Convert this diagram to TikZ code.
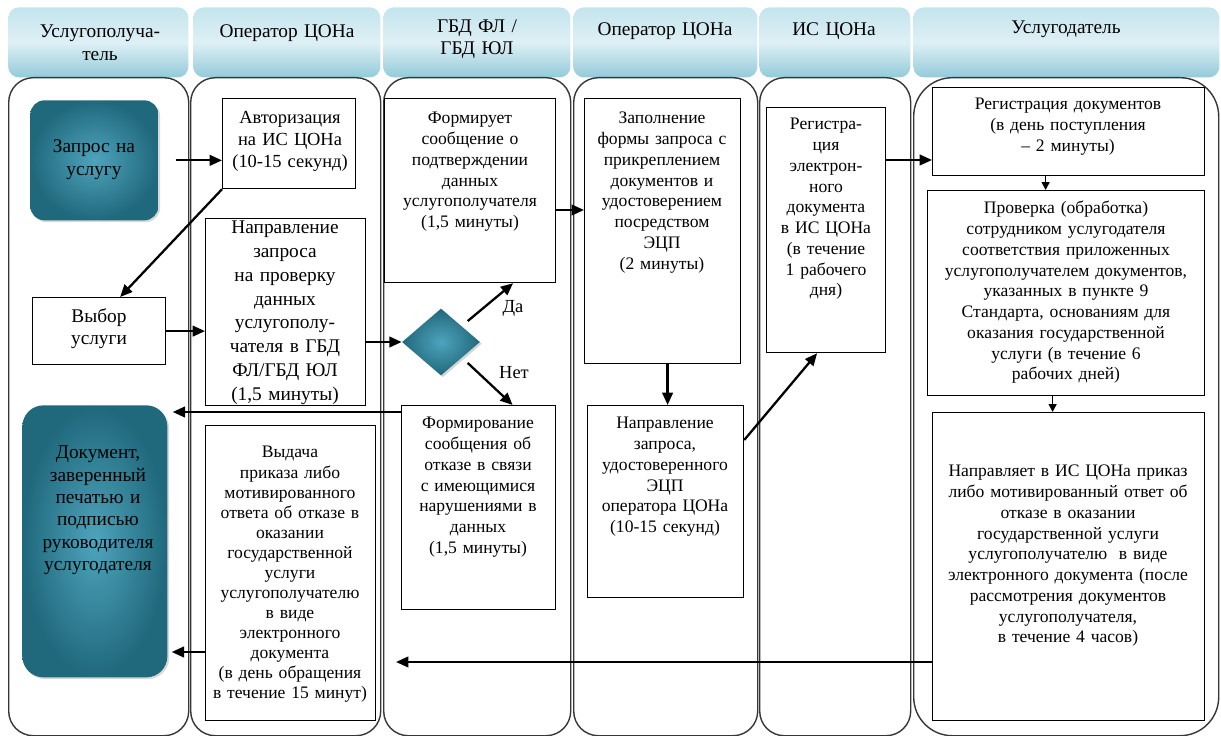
\documentclass[tikz,border=0pt]{standalone}
\usepackage{fontspec}
\setmainfont{Liberation Serif}
\usetikzlibrary{arrows.meta,calc,positioning,shapes.geometric,shadows}
\definecolor{tealdark}{RGB}{32,104,124}
\definecolor{teallight}{RGB}{78,164,188}
\definecolor{tabtop}{RGB}{196,228,237}
\definecolor{tabmid}{RGB}{222,240,245}
\definecolor{tabbot}{RGB}{148,202,218}
\definecolor{laneline}{RGB}{55,55,55}
\newcommand\fsz[2]{\fontsize{#1}{#2}\selectfont}

\begin{document}
\begin{tikzpicture}[x=0.02cm, y=-0.02cm,
    every node/.style={font=\fsz{10}{11.8}},
    tab/.style={draw=none, rounded corners=6pt, top color=tabtop, bottom color=tabbot, middle color=tabmid,
        anchor=north west, minimum height=70*0.02cm, inner sep=0, minimum width=#1*0.02cm},
    lane/.style={draw=laneline, line width=0.8pt, rounded corners=14pt, anchor=north west,
        minimum height=658*0.02cm, inner sep=0, minimum width=#1*0.02cm},
    box/.style 2 args={draw, line width=0.7pt, anchor=north west, inner sep=0,
        minimum width=#1*0.02cm, minimum height=#2*0.02cm},
    tealbox/.style 2 args={shading=radial, inner color=teallight, outer color=tealdark,
        anchor=north west, inner sep=0, rounded corners=10pt,
        drop shadow={shadow xshift=1pt, shadow yshift=-1pt, opacity=0.3},
        minimum width=#1*0.02cm, minimum height=#2*0.02cm},
    decision/.style={diamond, inner sep=0, minimum width=78*0.02cm, minimum height=67*0.02cm,
        shading=radial, inner color=teallight, outer color=tealdark,
        drop shadow={shadow xshift=1pt, shadow yshift=-1pt, opacity=0.35}},
    txt/.style={align=center, inner sep=0, anchor=base, text width=#1*0.02cm},
    lbl/.style={inner sep=0, anchor=base, font=\fsz{10.5}{12}},
    arr/.style={line width=1.3pt, -{Triangle[length=7pt,width=6pt]}},
    thinarr/.style={line width=0.8pt, -{Triangle[length=4.5pt,width=4.5pt]}}
]
\useasboundingbox (0,0) rectangle (1221,736);

% headers
\node[tab=180] (tab1) at (8,7) {};
\node[tab=187] (tab2) at (193,7) {};
\node[tab=187] (tab3) at (383,7) {};
\node[tab=184] (tab4) at (573,7) {};
\node[tab=151] (tab5) at (759,7) {};
\node[tab=306] (tab6) at (913,7) {};
\node[txt=170, font=\fsz{11}{13}] (tt1) at (100,38) {Услугополуча-\\тель};
\node[txt=180, font=\fsz{11}{13}] (tt2) at (287,38) {Оператор ЦОНа};
\node[txt=180, font=\fsz{11}{12}] (tt3) at (477,33) {ГБД ФЛ /\\ГБД ЮЛ};
\node[txt=180, font=\fsz{11}{13}] (tt4) at (665,36) {Оператор ЦОНа};
\node[txt=150, font=\fsz{11}{13}] (tt5) at (834,36) {ИС ЦОНа};
\node[txt=300, font=\fsz{11}{13}] (tt6) at (1066,34) {Услугодатель};

% lanes
\node[lane=180] (lane1) at (8,77) {};
\node[lane=190] (lane2) at (190,77) {};
\node[lane=187] (lane3) at (383,77) {};
\node[lane=184] (lane4) at (573,77) {};
\node[lane=151] (lane5) at (759,77) {};
\node[lane=305, rounded corners=22pt] (lane6) at (913,77) {};

% Услугополучатель
\node[tealbox={128}{120}, rounded corners=8pt] (zapros) at (30,100) {};
\node[txt=120, font=\fsz{11}{13}] (zapros-t) at (94,153) {Запрос на\\услугу};
\node[box={133}{67}] (vybor) at (32,297) {};
\node[txt=125, font=\fsz{11}{12}] (vybor-t) at (99,323) {Выбор\\услуги};
\node[tealbox={145}{272}, rounded corners=12pt] (dok) at (22,405) {};
\node[txt=140, font=\fsz{11}{12.7}] (dok-t) at (98,459)
    {Документ,\\заверенный\\печатью и\\подписью\\руководителя\\услугодателя};

% Оператор ЦОНа
\node[box={133}{90}] (avt) at (222,98) {};
\node[txt=130, font=\fsz{10.5}{12.5}] (avt-t) at (290,124) {Авторизация\\на ИС ЦОНа\\(10-15 секунд)};
\node[box={160}{187}] (napr) at (205,218) {};
\node[txt=158, font=\fsz{11}{13.5}] (napr-t) at (285,234)
    {Направление\\запроса\\на проверку\\данных\\услугополу-\\чателя в ГБД\\ФЛ/ГБД ЮЛ\\(1,5 минуты)};
\node[box={170}{295}] (vyd) at (205,425) {};
\node[txt=168, font=\fsz{10}{11.4}] (vyd-t) at (290,458)
    {Выдача\\приказа либо\\мотивированного\\ответа об отказе в\\оказании\\государственной\\услуги\\услугополучателю\\в виде\\электронного\\документа\\(в день обращения\\в течение 15 минут)};

% ГБД ФЛ / ГБД ЮЛ
\node[box={171}{184}] (frm) at (384,98) {};
\node[txt=168] (frm-t) at (470,124)
    {Формирует\\сообщение о\\подтверждении\\данных\\услугополучателя\\(1,5 минуты)};
\node[decision] (dia) at (441,342) {};
\node[lbl] (da) at (513,313) {Да};
\node[lbl] (net) at (514,379) {Нет};
\node[box={154}{204}] (frmo) at (401,405) {};
\node[txt=152] (frmo-t) at (478,429)
    {Формирование\\сообщения об\\отказе в связи\\с имеющимися\\нарушениями в\\данных\\(1,5 минуты)};

% Оператор ЦОНа
\node[box={156}{265}] (zap) at (584,98) {};
\node[txt=154] (zap-t) at (662,124)
    {Заполнение\\формы запроса с\\прикреплением\\документов и\\удостоверением\\посредством\\ЭЦП\\(2 минуты)};
\node[box={156}{192}] (nud) at (587,405) {};
\node[txt=154] (nud-t) at (665,429)
    {Направление\\запроса,\\удостоверенного\\ЭЦП\\оператора ЦОНа\\(10-15 секунд)};

% ИС ЦОНа
\node[box={119}{245}] (rege) at (766,107) {};
\node[txt=117] (rege-t) at (826,130)
    {Регистра-\\ция\\электрон-\\ного\\документа\\в ИС ЦОНа\\(в течение\\1 рабочего\\дня)};

% Услугодатель
\node[box={272}{88}] (regd) at (932,87) {};
\node[txt=268] (regd-t) at (1068,110) {Регистрация документов\\(в день поступления\\– 2 минуты)};
\node[box={277}{205}] (prov) at (927,190) {};
\node[txt=272] (prov-t) at (1066,214)
    {Проверка (обработка)\\сотрудником услугодателя\\соответствия приложенных\\услугополучателем документов,\\указанных в пункте 9\\Стандарта, основаниям для\\оказания государственной\\услуги (в течение 6\\рабочих дней)};
\node[box={272}{308}] (nprl) at (932,412) {};
\node[txt=268] (nprl-t) at (1068,477)
    {Направляет в ИС ЦОНа приказ\\либо мотивированный ответ об\\отказе в оказании\\государственной услуги\\услугополучателю~ в виде\\электронного документа (после\\рассмотрения документов\\услугополучателя,\\в течение 4 часов)};

% connectors
\draw[arr] ($(zapros.east)+(17,0)$) -- (zapros.east -| avt.west);
\draw[arr] (avt.south west) -- ($(vybor.north)+(21,0)$);
\draw[arr] (vybor.east) -- (vybor.east -| napr.west);
\draw[arr] (napr.east |- dia.west) -- (dia.west);
\draw[arr] ($(dia.north east)+(7,-4)$) -- ($(frm.south)+(43,0)$);
\draw[arr] ($(dia.south east)+(7,4)$) -- ($(frmo.north)+(34,0)$);
\draw[arr] ($(frm.north east)+(0,112)$) -- ($(zap.north west)+(0,112)$);
\draw[arr] ($(zap.south)+(5,0)$) -- ($(nud.north)+(2,0)$);
\draw[arr] ($(nud.north east)+(0,35)$) -- ($(rege.south)+(-9,0)$);
\draw[arr] ($(rege.north east)+(0,53)$) -- ($(regd.north west)+(0,73)$);
\draw[thinarr] ($(regd.south)+(-23,0)$) -- ($(prov.north)+(-20.5,0)$);
\draw[thinarr] ($(prov.south)+(-13.5,0)$) -- ($(nprl.north)+(-16,0)$);
\coordinate (vydin) at (396,662);
\draw[arr] (nprl.west |- vydin) -- (vydin);
\draw[arr] ($(frmo.north west)+(0,7)$) -- ($(dok.north east)+(5,7)$);
\draw[arr] ($(vyd.north west)+(0,227)$) -- ($(dok.north east)+(4,247)$);
\end{tikzpicture}
\end{document}
